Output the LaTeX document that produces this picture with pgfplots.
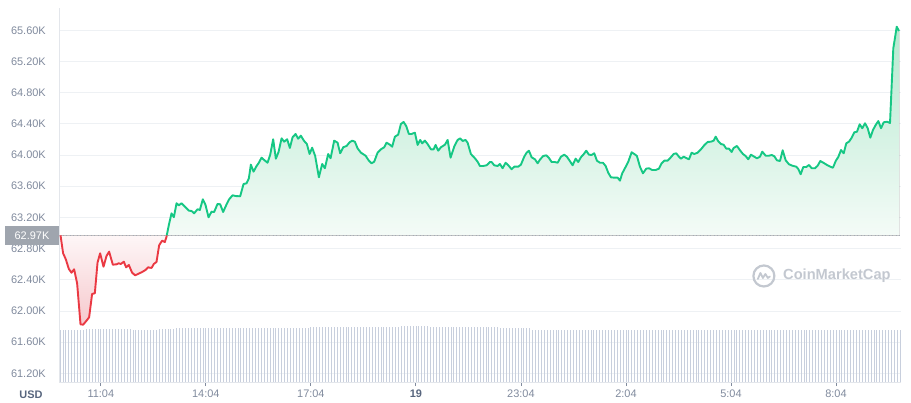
\documentclass[border=0pt]{standalone}
\usepackage{pgfplots}
\pgfplotsset{compat=1.18}
\usepgfplotslibrary{fillbetween}
\usepackage{pgfplotstable}
\usepackage{fontspec}
\setmainfont{Liberation Sans}
\definecolor{cmcgreen}{HTML}{16C784}
\definecolor{cmcred}{HTML}{EA3943}
\definecolor{tickgray}{HTML}{808A9D}
\definecolor{darkgray}{HTML}{58667E}
\definecolor{gridc}{HTML}{EEF1F4}
\definecolor{axisc}{HTML}{E3E6EB}
\definecolor{volc}{HTML}{C8CFDD}
\definecolor{boxgray}{HTML}{9FA5AE}
\definecolor{wm}{HTML}{C3C8D0}
\definecolor{gtop}{HTML}{B4E9CF}
\definecolor{gbot}{HTML}{F4FBF7}
\definecolor{rtop}{HTML}{FEF6F7}
\definecolor{rbot}{HTML}{F6C9CD}

\pgfplotstableread{
h v
-1.151 62.970
-1.077 62.739
-1.000 62.662
-0.914 62.538
-0.837 62.490
-0.763 62.534
-0.677 62.354
-0.580 61.828
-0.506 61.823
-0.409 61.874
-0.334 61.918
-0.249 62.217
-0.171 62.226
-0.094 62.619
-0.020 62.739
0.077 62.567
0.163 62.705
0.237 62.760
0.343 62.593
0.449 62.598
0.514 62.611
0.571 62.602
0.657 62.631
0.723 62.559
0.800 62.589
0.894 62.490
0.980 62.457
1.066 62.474
1.180 62.499
1.277 62.525
1.351 62.559
1.449 62.551
1.514 62.602
1.591 62.628
1.666 62.842
1.751 62.901
1.829 62.884
1.877 62.952
1.885 62.970
}\redtab

\pgfplotstableread{
h v
1.885 62.970
1.943 63.102
2.020 63.252
2.086 63.201
2.163 63.381
2.229 63.355
2.306 63.381
2.420 63.329
2.514 63.286
2.591 63.282
2.666 63.252
2.763 63.304
2.829 63.295
2.914 63.432
2.991 63.359
3.077 63.201
3.163 63.273
3.237 63.269
3.334 63.372
3.409 63.368
3.494 63.269
3.580 63.355
3.666 63.432
3.763 63.483
3.849 63.474
3.980 63.470
4.077 63.628
4.163 63.637
4.229 63.701
4.286 63.876
4.363 63.786
4.437 63.850
4.514 63.901
4.591 63.966
4.666 63.936
4.763 63.901
4.837 64.000
4.923 64.202
5.000 63.953
5.077 64.039
5.163 64.214
5.237 64.171
5.323 64.202
5.400 64.090
5.477 64.227
5.563 64.270
5.637 64.209
5.714 64.248
5.800 64.184
5.886 64.141
5.963 64.013
6.037 64.094
6.123 63.987
6.229 63.714
6.323 63.885
6.400 63.830
6.494 64.013
6.563 63.958
6.666 64.184
6.763 64.158
6.837 64.022
6.923 64.099
7.020 64.116
7.106 64.163
7.180 64.184
7.257 64.171
7.334 64.086
7.429 64.030
7.563 63.991
7.657 63.927
7.734 63.894
7.809 63.914
7.906 64.030
8.000 64.073
8.094 64.099
8.163 64.158
8.257 64.132
8.323 64.107
8.400 64.235
8.494 64.261
8.571 64.398
8.649 64.424
8.723 64.372
8.800 64.270
8.877 64.270
8.971 64.286
9.049 64.129
9.123 64.193
9.180 64.150
9.257 64.184
9.334 64.141
9.429 64.073
9.506 64.073
9.563 64.129
9.637 64.055
9.714 64.099
9.829 64.132
9.906 64.193
9.991 63.966
10.094 64.107
10.191 64.193
10.266 64.214
10.334 64.180
10.420 64.193
10.477 64.158
10.571 64.013
10.686 63.958
10.763 63.914
10.829 63.859
10.923 63.859
11.020 63.868
11.114 63.910
11.163 63.910
11.237 63.868
11.334 63.859
11.400 63.885
11.477 63.830
11.563 63.901
11.657 63.859
11.734 63.817
11.809 63.850
11.923 63.850
12.000 63.876
12.094 63.978
12.163 64.030
12.229 64.055
12.306 63.971
12.400 63.945
12.477 63.894
12.551 63.945
12.637 63.987
12.723 63.996
12.800 63.962
12.877 63.910
12.971 63.910
13.049 63.901
13.143 63.978
13.237 64.004
13.314 63.978
13.391 63.927
13.477 63.868
13.563 63.953
13.637 63.910
13.714 63.971
13.791 64.009
13.866 64.055
13.943 64.004
14.020 64.000
14.094 64.022
14.171 63.927
14.257 63.901
14.343 63.901
14.420 63.859
14.494 63.773
14.571 63.714
14.666 63.709
14.763 63.709
14.829 63.671
14.894 63.765
14.971 63.830
15.066 63.914
15.163 64.035
15.237 64.013
15.314 63.987
15.400 63.850
15.486 63.765
15.580 63.825
15.657 63.830
15.751 63.808
15.849 63.808
15.943 63.825
16.020 63.894
16.094 63.927
16.191 63.927
16.266 63.962
16.363 64.013
16.437 64.022
16.514 63.978
16.571 63.953
16.649 63.978
16.723 63.962
16.800 63.945
16.877 64.030
16.951 64.013
17.049 64.030
17.143 64.073
17.237 64.125
17.334 64.167
17.429 64.171
17.506 64.184
17.563 64.235
17.637 64.176
17.714 64.141
17.791 64.132
17.866 64.081
17.943 64.081
18.020 64.039
18.077 64.090
18.171 64.116
18.266 64.055
18.343 64.013
18.420 63.987
18.494 63.945
18.571 64.004
18.666 63.978
18.743 63.958
18.829 63.978
18.894 64.043
18.991 63.991
19.086 63.991
19.163 64.000
19.237 63.984
19.314 63.932
19.400 63.923
19.477 64.061
19.563 63.932
19.657 63.881
19.751 63.863
19.866 63.850
19.923 63.821
19.991 63.753
20.066 63.846
20.151 63.846
20.229 63.872
20.306 63.830
20.400 63.830
20.477 63.863
20.551 63.923
20.649 63.898
20.743 63.872
20.837 63.850
20.914 63.837
20.991 63.923
21.066 63.975
21.143 64.064
21.220 64.022
21.294 64.150
21.371 64.171
21.449 64.222
21.523 64.291
21.600 64.299
21.677 64.394
21.751 64.343
21.829 64.407
21.906 64.343
21.980 64.222
22.057 64.321
22.134 64.385
22.209 64.436
22.286 64.343
22.363 64.420
22.457 64.427
22.543 64.411
22.591 64.898
22.637 65.369
22.686 65.505
22.734 65.646
22.800 65.591
}\greentab

\begin{document}
\begin{tikzpicture}
\pgfplotsset{every axis/.append style={scale only axis, width=841.7bp, height=373.7bp, xmin=-1.186, xmax=22.857}}
% volume bars
\begin{axis}[ymin=0, ymax=245, axis lines=none]
\addplot[ycomb, draw=volc, line width=0.75bp, mark=none] coordinates {
(-1.167,34.1)(-1.083,34.1)(-1.0,34.1)(-0.917,34.1)(-0.833,34.1)(-0.75,34.1)(-0.667,34.1)(-0.583,34.1)(-0.5,34.1)
(-0.417,34.9)(-0.333,34.9)(-0.25,34.9)(-0.167,34.9)(-0.083,34.9)
(0,34.9)(0.083,34.9)(0.167,34.9)(0.25,34.9)(0.333,34.9)(0.417,34.9)(0.5,34.9)(0.583,34.9)(0.667,34.9)(0.75,34.9)(0.833,34.9)(0.917,34.1)
(1,34.1)(1.083,34.1)(1.167,34.1)(1.25,34.1)(1.333,34.1)(1.417,34.1)(1.5,34.1)(1.583,34.1)(1.667,34.9)(1.75,34.9)(1.833,34.9)(1.917,34.9)
(2,34.9)(2.083,34.9)(2.167,35.6)(2.25,35.6)(2.333,35.6)(2.417,35.6)(2.5,35.6)(2.583,35.6)(2.667,35.6)(2.75,35.6)(2.833,35.6)(2.917,35.6)
(3,35.6)(3.083,35.6)(3.167,35.6)(3.25,35.6)(3.333,35.6)(3.417,35.6)(3.5,35.6)(3.583,35.6)(3.667,35.6)(3.75,35.6)(3.833,35.6)(3.917,35.6)
(4,35.6)(4.083,35.6)(4.167,35.6)(4.25,35.6)(4.333,35.6)(4.417,35.6)(4.5,35.6)(4.583,35.6)(4.667,35.6)(4.75,35.6)(4.833,35.6)(4.917,35.6)
(5,35.7)(5.083,35.7)(5.167,35.7)(5.25,35.7)(5.333,35.7)(5.417,35.7)(5.5,35.7)(5.583,35.7)(5.667,35.7)(5.75,35.7)(5.833,35.7)(5.917,35.7)
(6,35.8)(6.083,35.8)(6.167,35.8)(6.25,35.8)(6.333,35.8)(6.417,35.8)(6.5,35.8)(6.583,35.8)(6.667,35.8)(6.75,35.8)(6.833,35.8)(6.917,35.8)
(7,36.0)(7.083,36.0)(7.167,36.0)(7.25,36.0)(7.333,36.0)(7.417,36.0)(7.5,36.0)(7.583,36.0)(7.667,36.0)(7.75,36.0)(7.833,36.0)(7.917,36.0)
(8,36.2)(8.083,36.2)(8.167,36.2)(8.25,36.2)(8.333,36.2)(8.417,36.2)(8.5,36.2)(8.583,36.9)(8.667,36.9)(8.75,36.9)(8.833,36.9)(8.917,36.9)
(9,36.9)(9.083,36.9)(9.167,36.9)(9.25,36.9)(9.333,36.9)(9.417,36.0)(9.5,36.0)(9.583,36.0)(9.667,36.0)(9.75,36.0)(9.833,36.0)(9.917,36.0)
(10,36.0)(10.083,36.0)(10.167,36.0)(10.25,36.0)(10.333,36.0)(10.417,36.0)(10.5,36.0)(10.583,36.0)(10.667,36.0)(10.75,36.0)(10.833,36.0)(10.917,36.0)
(11,36.0)(11.083,36.0)(11.167,36.0)(11.25,36.0)(11.333,36.0)(11.417,35.2)(11.5,35.2)(11.583,35.2)(11.667,35.2)(11.75,35.2)(11.833,35.2)(11.917,35.2)
(12,35.2)(12.083,35.2)(12.167,35.2)(12.25,35.2)(12.333,34.1)(12.417,34.1)(12.5,34.1)(12.583,34.1)(12.667,34.1)(12.75,34.1)(12.833,34.1)(12.917,34.1)
(13,34.1)(13.083,34.1)(13.167,34.1)(13.25,34.1)(13.333,34.1)(13.417,34.1)(13.5,34.1)(13.583,34.1)(13.667,34.1)(13.75,34.1)(13.833,34.1)(13.917,34.1)
(14,34.1)(14.083,34.1)(14.167,34.1)(14.25,34.1)(14.333,34.1)(14.417,34.1)(14.5,34.1)(14.583,34.1)(14.667,34.1)(14.75,34.1)(14.833,34.1)(14.917,34.1)
(15,34.1)(15.083,34.1)(15.167,34.1)(15.25,34.1)(15.333,34.1)(15.417,34.1)(15.5,34.1)(15.583,34.1)(15.667,34.1)(15.75,34.1)(15.833,34.1)(15.917,34.1)
(16,34.1)(16.083,34.1)(16.167,34.1)(16.25,34.1)(16.333,34.1)(16.417,34.1)(16.5,34.1)(16.583,34.1)(16.667,34.1)(16.75,34.1)(16.833,34.1)(16.917,34.1)
(17,34.1)(17.083,34.1)(17.167,34.1)(17.25,34.1)(17.333,34.1)(17.417,34.1)(17.5,34.1)(17.583,34.1)(17.667,34.1)(17.75,34.1)(17.833,34.1)(17.917,34.1)
(18,34.1)(18.083,34.1)(18.167,34.1)(18.25,34.1)(18.333,34.1)(18.417,34.1)(18.5,34.1)(18.583,34.1)(18.667,34.1)(18.75,34.1)(18.833,34.1)(18.917,34.1)
(19,34.1)(19.083,34.1)(19.167,34.1)(19.25,34.1)(19.333,34.1)(19.417,34.1)(19.5,34.1)(19.583,34.1)(19.667,34.1)(19.75,34.1)(19.833,34.1)(19.917,34.1)
(20,34.1)(20.083,34.1)(20.167,34.1)(20.25,34.1)(20.333,34.1)(20.417,34.1)(20.5,34.1)(20.583,34.1)(20.667,34.1)(20.75,34.1)(20.833,34.1)(20.917,34.1)
(21,34.1)(21.083,34.1)(21.167,34.1)(21.25,34.1)(21.333,34.1)(21.417,34.1)(21.5,34.1)(21.583,34.1)(21.667,34.1)(21.75,34.1)(21.833,34.1)(21.917,34.1)
(22,34.1)(22.083,34.1)(22.167,34.1)(22.25,34.1)(22.333,34.1)(22.417,34.1)(22.5,34.1)(22.583,34.1)(22.667,34.1)(22.75,34.1)(22.833,34.1)
};
\end{axis}
% price
\begin{axis}[
  ymin=61.088, ymax=65.882,
  axis x line*=bottom, axis y line*=left,
  axis line style={draw=axisc, line width=0.8bp},
  ytick={61.2,61.6,62.0,62.4,62.8,63.2,63.6,64.0,64.4,64.8,65.2,65.6},
  yticklabels={61.20K,61.60K,62.00K,62.40K,62.80K,63.20K,63.60K,64.00K,64.40K,64.80K,65.20K,65.60K},
  xtick={0,3,6,9,12,15,18,21},
  xticklabels={11:04,14:04,17:04,{\color{darkgray}\bfseries 19},23:04,2:04,5:04,8:04},
  ymajorgrids, major grid style={draw=gridc, line width=0.8bp},
  ytick style={draw=none},
  xtick style={draw=tickgray, line width=0.8bp},
  tick align=outside, major tick length=4bp,
  tick label style={font=\fontsize{11}{13}\selectfont, text=tickgray},
  yticklabel style={xshift=-6bp},
  /pgf/number format/assume math mode=true,
]
\addplot[draw=none, name path=rl] table[x=h,y=v] {\redtab};
\addplot[draw=none, name path=gl] table[x=h,y=v] {\greentab};
\addplot[draw=none, name path=rb] coordinates {(-1.151,62.97) (1.885,62.97)};
\addplot[draw=none, name path=gb] coordinates {(1.885,62.97) (22.8,62.97)};
\addplot[top color=rtop, bottom color=rbot, draw=none] fill between[of=rl and rb];
\addplot[top color=gtop, bottom color=gbot, draw=none] fill between[of=gl and gb];
\addplot[draw={rgb,255:red,165;green,171;blue,182}, line width=0.9bp, dash pattern=on 0.9bp off 2.6bp] coordinates {(-1.186,62.97) (22.857,62.97)};
\addplot[cmcred, line width=1.9bp, line join=round, mark=none] table[x=h,y=v] {\redtab};
\addplot[cmcgreen, line width=1.9bp, line join=round, mark=none] table[x=h,y=v] {\greentab};
\coordinate (SW) at (rel axis cs:0,0);
\coordinate (base) at (axis cs:-1.186,62.97);
\coordinate (logo) at (axis cs:18.94,62.448);
\coordinate (wmtext) at (axis cs:19.486,62.448);
\end{axis}
\node[anchor=east, fill=boxgray, text=white, minimum width=54.3bp, minimum height=19bp, inner sep=0pt, font=\fontsize{11}{13}\selectfont] at (base) {62.97K};
\node[text=darkgray, font=\fontsize{11}{13}\selectfont\bfseries] at ([shift={(-28.3bp,-13bp)}]SW) {USD};
\draw[wm, line width=2.2bp] (logo) circle (10.5bp);
\draw[wm, line width=1.8bp, line join=round, line cap=round] ([shift={(-6bp,-3bp)}]logo) -- ++(2.5bp,6bp) -- ++(2.5bp,-5bp) -- ++(2.5bp,4bp) -- ++(2.5bp,-4bp) -- ++(2bp,1.5bp);
\node[anchor=west, text=wm, inner sep=0pt, font=\fontsize{14.7}{16}\selectfont\bfseries] at (wmtext) {CoinMarketCap};
\pgfresetboundingbox
\path[use as bounding box] ([shift={(-59.3bp,-21bp)}]SW) rectangle ++(911bp,403bp);
\end{tikzpicture}
\end{document}
